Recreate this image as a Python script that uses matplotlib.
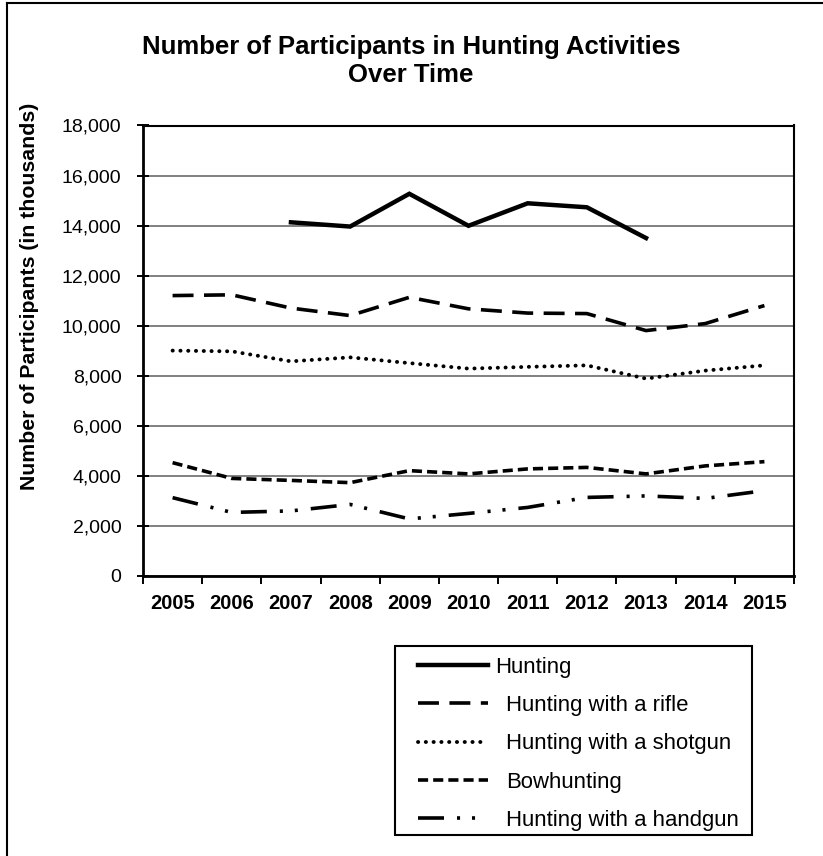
import numpy as np
import matplotlib
matplotlib.use("Agg")
import matplotlib.pyplot as plt
from matplotlib.lines import Line2D
from matplotlib.patches import Rectangle
from matplotlib.ticker import FuncFormatter, FixedLocator

plt.rcParams['font.family'] = ['Liberation Sans', 'DejaVu Sans']

# ---- data (participants, thousands) ----
years = ['2005', '2006', '2007', '2008', '2009', '2010',
         '2011', '2012', '2013', '2014', '2015']
hunting = [np.nan, np.nan, 14130, 13960, 15270, 13990, 14890, 14730, 13500, np.nan, np.nan]
rifle = [11200, 11230, 10700, 10400, 11130, 10670, 10500, 10480, 9800, 10080, 10800]
shotgun = [9000, 8970, 8570, 8730, 8500, 8280, 8350, 8410, 7880, 8200, 8410]
bowhunting = [4520, 3890, 3810, 3720, 4200, 4070, 4270, 4330, 4070, 4390, 4560]
handgun = [3120, 2530, 2590, 2850, 2270, 2490, 2730, 3130, 3190, 3090, 3400]

series_labels = ['Hunting', 'Hunting with a rifle', 'Hunting with a shotgun',
                 'Bowhunting', 'Hunting with a handgun']
y_ticks = list(range(0, 18001, 2000))

W, H = 823, 856
fig = plt.figure(figsize=(W / 100, H / 100), dpi=100)

def fx(px):
    return px / W

def fy(py):
    return 1 - py / H

# outer chart-area border (left and top edges)
fig.add_artist(Line2D([fx(7), fx(7)], [fy(3), fy(H + 5)], color='black', lw=1.5,
                      transform=fig.transFigure))
fig.add_artist(Line2D([fx(7), fx(W + 5)], [fy(3), fy(3)], color='black', lw=1.5,
                      transform=fig.transFigure))

left, right, top, bottom = 143, 794, 125.5, 575.7
ax = fig.add_axes([fx(left), fy(bottom), (right - left) / W, (bottom - top) / H])

x = np.arange(len(years))
lw = 2.6
styles = [
    dict(ls='-', lw=3.2),
    dict(ls=(0, (5.8, 2.9)), lw=lw, dash_capstyle='butt'),
    dict(ls=(0, (0.05, 1.95)), lw=2.8, dash_capstyle='round'),
    dict(ls=(0, (2.8, 1.4)), lw=lw, dash_capstyle='butt'),
    dict(ls=(0, (7.2, 3.6, 0.85, 3.3, 0.85, 3.6)), lw=lw, dash_capstyle='butt'),
]
lines = []
for vals, st, lab in zip([hunting, rifle, shotgun, bowhunting, handgun], styles, series_labels):
    ln, = ax.plot(x, vals, color='black', label=lab, solid_joinstyle='miter', **st)
    lines.append(ln)

ax.set_xlim(-0.5, len(years) - 0.5)
ax.set_ylim(0, 18000)

# gridlines
ax.yaxis.set_major_locator(FixedLocator(y_ticks))
ax.grid(axis='y', color='#808080', lw=1.4)
ax.set_axisbelow(True)

ax.yaxis.set_major_formatter(FuncFormatter(lambda v, p: f'{int(v):,}'))
ax.tick_params(axis='y', direction='inout', length=8, width=1.4, labelsize=14, pad=11.5)

# category axis: ticks between categories, labels at centres
ax.set_xticks(np.arange(-0.5, len(years), 1.0))
ax.set_xticklabels([])
ax.set_xticks(x, minor=True)
ax.set_xticklabels(years, minor=True, fontsize=14.5, fontweight='bold')
ax.tick_params(axis='x', which='major', direction='out', length=6, width=1.4)
ax.tick_params(axis='x', which='minor', length=0, pad=13)

for s in ['left', 'bottom']:
    ax.spines[s].set_linewidth(2.0)
for s in ['top', 'right']:
    ax.spines[s].set_linewidth(1.5)

fig.text(fx(30), fy(296), 'Number of Participants (in thousands)', rotation=90,
         ha='center', va='center', fontsize=15.3, fontweight='bold')

fig.text(fx(411), fy(54), 'Number of Participants in Hunting Activities',
         ha='center', va='baseline', fontsize=18.5, fontweight='bold')
fig.text(fx(411), fy(82), 'Over Time',
         ha='center', va='baseline', fontsize=18.5, fontweight='bold')

# legend box
fig.add_artist(Rectangle((fx(395), fy(835)), fx(752) - fx(395), fy(646) - fy(835),
                         transform=fig.transFigure, fill=False, ec='black', lw=1.5))
leg = fig.legend(handles=lines, labels=series_labels, loc='upper left',
                 bbox_to_anchor=(fx(418), fy(657)), frameon=False, fontsize=15.9,
                 borderpad=0, borderaxespad=0, handlelength=3.18,
                 handletextpad=0.82, labelspacing=0.78)
# first entry's label sits right against its line sample
leg.get_texts()[0].set_x(-11)

fig.savefig('out.png', dpi=100)
